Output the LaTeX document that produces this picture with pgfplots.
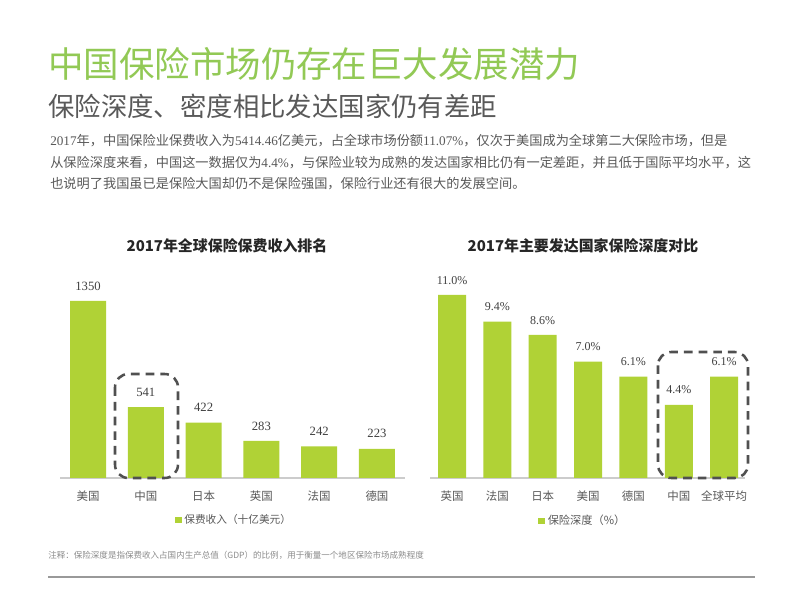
\documentclass[border=0pt]{standalone}
\usepackage{pgfplots}
\pgfplotsset{compat=1.18}
\usepackage{fontspec}
\setmainfont{Liberation Serif}
\newfontfamily\cjk{Noto Sans CJK SC}
\newfontfamily\num{Liberation Serif}
\definecolor{barcol}{HTML}{B0D236}
\definecolor{titlegreen}{HTML}{92C955}
\definecolor{txtgray}{HTML}{595959}
\definecolor{valgray}{HTML}{404040}
\definecolor{boxgray}{HTML}{505050}
\begin{document}
\begin{tikzpicture}
\fill[white] (0,0) rectangle (600pt,450pt);
\useasboundingbox (0,0) rectangle (600pt,450pt);
% left chart
\begin{axis}[
 at={(45pt,91.5pt)}, anchor=south west, scale only axis,
 width=258.75pt, height=150pt,
 xmin=-0.485, xmax=5.485, ymin=0, ymax=1525,
 axis x line=bottom, axis y line=none,
 x axis line style={draw=black!20, line width=0.8pt, -},
 xtick=data, xticklabels={美国,中国,日本,英国,法国,德国},
 xtick style={draw=none}, ytick=\empty,
 xticklabel style={font=\cjk\fontsize{8.6}{10}\selectfont, text=txtgray, yshift=-1.5pt},
 ybar, bar width=27pt,
 nodes near coords, point meta=explicit symbolic,
 every node near coord/.append style={font=\num\fontsize{9.5}{11}\selectfont, text=valgray, yshift=4.5pt},
 legend style={at={(0.505,-0.21)}, anchor=center, draw=none, fill=none,
   font=\cjk\fontsize{8}{10}\selectfont, text=txtgray},
 legend image code/.code={\fill[barcol] (0pt,-2.6pt) rectangle (5.2pt,2.6pt);},
 clip=false,
]
\addplot[fill=barcol, draw=none] coordinates {(0,1350)[1350] (1,541)[541] (2,422)[422] (3,283)[283] (4,242)[242] (5,223)[223]};
\legend{保费收入（十亿美元）}
\end{axis}
% right chart
\begin{axis}[
 at={(322.5pt,91.5pt)}, anchor=south west, scale only axis,
 width=236.25pt, height=150pt,
 xmin=-0.486, xmax=6.46, ymin=0, ymax=12.02,
 axis x line=bottom, axis y line=none,
 x axis line style={draw=black!20, line width=0.8pt, -},
 xtick=data, xticklabels={英国,法国,日本,美国,德国,中国,全球平均},
 xtick style={draw=none}, ytick=\empty,
 xticklabel style={font=\cjk\fontsize{8.6}{10}\selectfont, text=txtgray, yshift=-1.5pt},
 ybar, bar width=21pt,
 nodes near coords, point meta=explicit symbolic,
 every node near coord/.append style={font=\num\fontsize{9}{11}\selectfont, text=valgray, yshift=4.5pt},
 legend style={at={(0.486,-0.215)}, anchor=center, draw=none, fill=none,
   font=\cjk\fontsize{8.4}{10}\selectfont, text=txtgray},
 legend image code/.code={\fill[barcol] (0pt,-2.6pt) rectangle (5.2pt,2.6pt);},
 clip=false,
]
\addplot[fill=barcol, draw=none] coordinates {(0,11.0)[11.0\%] (1,9.4)[9.4\%] (2,8.6)[8.6\%] (3,7.0)[7.0\%] (4,6.1)[6.1\%] (5,4.4)[4.4\%] (6,6.1)[6.1\%]};
\legend{保险深度（\%）}
\end{axis}
\begin{scope}[x=0.75pt,y=-0.75pt,shift={(0,450pt)}]
% titles
\node[anchor=west,inner sep=0,text=titlegreen,font=\cjk\fontsize{26.6}{30}\selectfont] at (48,64) {中国保险市场仍存在巨大发展潜力};
\node[anchor=west,inner sep=0,text=txtgray,font=\cjk\fontsize{19.8}{23}\selectfont] at (48,106) {保险深度、密度相比发达国家仍有差距};
% body
\begin{scope}[every node/.style={anchor=west,inner sep=0,text=txtgray,font=\cjk\fontsize{9.9}{12}\selectfont}]
\node at (50,141) {{\num 2017}年，中国保险业保费收入为{\num 5414.46}亿美元，占全球市场份额{\num 11.07\%}，仅次于美国成为全球第二大保险市场，但是};
\node at (50,163) {从保险深度来看，中国这一数据仅为{\num 4.4\%}，与保险业较为成熟的发达国家相比仍有一定差距，并且低于国际平均水平，这};
\node at (50,184) {也说明了我国虽已是保险大国却仍不是保险强国，保险行业还有很大的发展空间。};
\end{scope}
% chart titles
\node[text=black!85,font=\cjk\bfseries\fontsize{11.2}{13}\selectfont] at (227,246) {2017年全球保险保费收入排名};
\node[text=black!85,font=\cjk\bfseries\fontsize{11.2}{13}\selectfont] at (583,246) {2017年主要发达国家保险深度对比};
% dashed highlight boxes
\draw[boxgray, line width=1.9pt, dash pattern=on 6.5pt off 4.5pt, rounded corners=10pt] (115,374) rectangle (178,478);
\draw[boxgray, line width=1.9pt, dash pattern=on 6.5pt off 4.5pt, rounded corners=10pt] (658,352) rectangle (748,478);
% footnote
\node[anchor=west,inner sep=0,text=black!45,font=\cjk\fontsize{6.4}{8}\selectfont] at (48,555) {注释：保险深度是指保费收入占国内生产总值（GDP）的比例，用于衡量一个地区保险市场成熟程度};
\draw[black!40, line width=0.8pt] (48,577) -- (755,577);
\end{scope}
\end{tikzpicture}
\end{document}
